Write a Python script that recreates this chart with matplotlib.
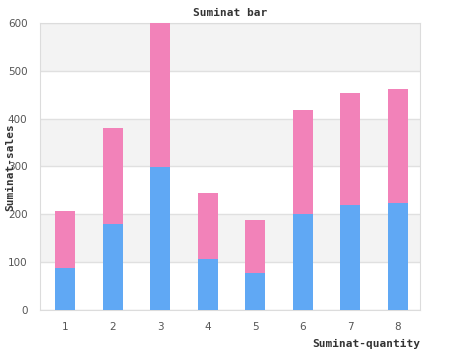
import matplotlib
matplotlib.use("Agg")
import matplotlib.pyplot as plt
import numpy as np

# data
categories = ["1", "2", "3", "4", "5", "6", "7", "8"]
sales_lower = [88, 180, 298, 106, 77, 201, 219, 224]
sales_total = [207, 381, 600, 245, 188, 419, 454, 462]
sales_upper = [t - b for t, b in zip(sales_total, sales_lower)]

blue = "#60a8f4"
pink = "#f282b9"
mono = "DejaVu Sans Mono"

fig = plt.figure(figsize=(4.5, 3.5), dpi=100)
ax = fig.add_axes([40 / 450, 40 / 350, 380 / 450, 287 / 350])

x = np.arange(1, len(categories) + 1)
ax.bar(x, sales_lower, width=0.42, color=blue, zorder=3)
ax.bar(x, sales_upper, width=0.42, bottom=sales_lower, color=pink, zorder=3)

# alternating bands
for lo in range(100, 600, 200):
    ax.axhspan(lo, lo + 100, color="#f3f3f3", zorder=0, lw=0)
ax.set_ylim(0, 600)
ax.set_xlim(0.47, 8.47)
ax.set_yticks(range(0, 601, 100))
ax.set_xticks(x)
ax.set_xticklabels(categories)
ax.yaxis.grid(True, color="#e0e0e0", lw=1, zorder=1)
ax.set_axisbelow(True)

for s in ax.spines.values():
    s.set_color("#dcdcdc")
ax.tick_params(length=0, colors="#555555", labelsize=7.5, pad=9)

ax.set_title("Suminat bar", fontsize=8, fontweight="bold", family=mono,
             color="#333333", pad=5)
fig.text(420 / 450, 6 / 350, "Suminat-quantity", ha="right", va="center",
         fontsize=8, fontweight="bold", family=mono, color="#333333")
fig.text(10 / 450, 183 / 350, "Suminat-sales", ha="center", va="center",
         rotation=90, fontsize=8, fontweight="bold", family=mono, color="#333333")

fig.savefig("out.png", dpi=100)
